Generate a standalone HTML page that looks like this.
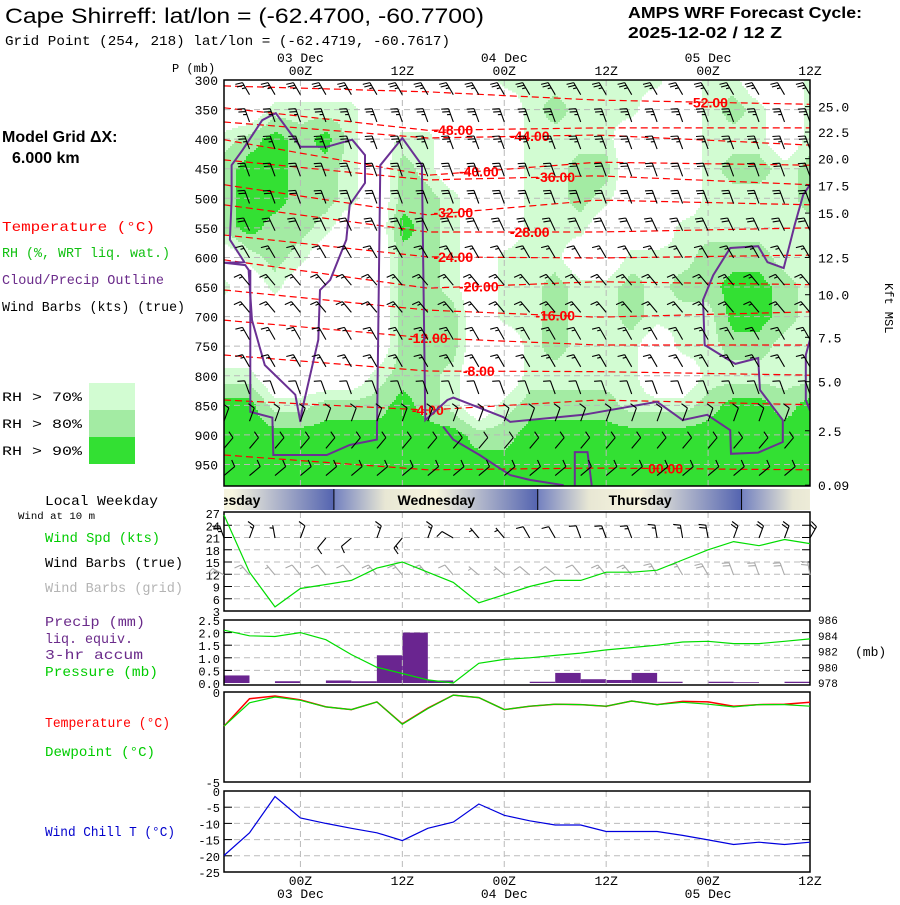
<!DOCTYPE html>
<html><head><meta charset="utf-8"><style>
body{margin:0;background:#fff;width:900px;height:900px;overflow:hidden}
svg text{font-family:"Liberation Mono",monospace}
.sans{font-family:"Liberation Sans",sans-serif}
</style></head><body>
<svg id="c" width="900" height="900" viewBox="0 0 900 900" xmlns="http://www.w3.org/2000/svg">
<defs>
<clipPath id="clipMain"><rect x="224" y="80" width="586" height="406"/></clipPath>
<clipPath id="clipDay"><rect x="224" y="489" width="586" height="21"/></clipPath>
<linearGradient id="dayGrad" x1="0" x2="1" y1="0" y2="0">
<stop offset="0" stop-color="#7482c0"/><stop offset="0.25" stop-color="#e8e7d4"/><stop offset="0.5" stop-color="#f7f5df"/><stop offset="1" stop-color="#5363b0"/>
</linearGradient>
</defs>
<text class="sans" x="5" y="23" font-size="21" textLength="479" lengthAdjust="spacingAndGlyphs">Cape Shirreff:  lat/lon = (-62.4700, -60.7700)</text>
<text x="5" y="45" font-size="14" textLength="445" lengthAdjust="spacingAndGlyphs">Grid Point (254, 218) lat/lon = (-62.4719, -60.7617)</text>
<text class="sans" x="628" y="18" font-size="16" font-weight="bold" textLength="234" lengthAdjust="spacingAndGlyphs">AMPS WRF Forecast Cycle:</text>
<text class="sans" x="628" y="38" font-size="16" font-weight="bold" textLength="154" lengthAdjust="spacingAndGlyphs">2025-12-02 / 12  Z</text>
<text x="172" y="72" font-size="12">P (mb)</text>
<text class="sans" x="2" y="142" font-size="16" font-weight="bold">Model Grid ΔX:</text>
<text class="sans" x="12" y="163" font-size="16" font-weight="bold">6.000 km</text>
<text x="2" y="231" font-size="14" fill="#ff0000" textLength="153" lengthAdjust="spacingAndGlyphs">Temperature (°C)</text>
<text x="2" y="257" font-size="14" fill="#10c010" textLength="168" lengthAdjust="spacingAndGlyphs">RH (%, WRT liq. wat.)</text>
<text x="2" y="284" font-size="14" fill="#6a2a8a" textLength="162" lengthAdjust="spacingAndGlyphs">Cloud/Precip Outline</text>
<text x="2" y="311" font-size="14" fill="#000" textLength="183" lengthAdjust="spacingAndGlyphs">Wind Barbs (kts) (true)</text>
<rect x="89" y="383" width="46" height="27" fill="#d2fcd2"/>
<rect x="89" y="410" width="46" height="27" fill="#a3eba3"/>
<rect x="89" y="437" width="46" height="27" fill="#33e033"/>
<text x="2" y="401" font-size="13" textLength="80" lengthAdjust="spacingAndGlyphs">RH &gt; 70%</text>
<text x="2" y="428" font-size="13" textLength="80" lengthAdjust="spacingAndGlyphs">RH &gt; 80%</text>
<text x="2" y="455" font-size="13" textLength="80" lengthAdjust="spacingAndGlyphs">RH &gt; 90%</text>
<text x="45" y="505" font-size="14" textLength="113" lengthAdjust="spacingAndGlyphs">Local Weekday</text>
<text x="18" y="519" font-size="10" textLength="77" lengthAdjust="spacingAndGlyphs">Wind at 10 m</text>
<text x="45" y="542" font-size="14" fill="#00cc00" textLength="115" lengthAdjust="spacingAndGlyphs">Wind Spd (kts)</text>
<text x="45" y="567" font-size="14" textLength="138" lengthAdjust="spacingAndGlyphs">Wind Barbs (true)</text>
<text x="45" y="592" font-size="14" fill="#b4b4b4" textLength="138" lengthAdjust="spacingAndGlyphs">Wind Barbs (grid)</text>
<text x="45" y="626" font-size="14" fill="#6a2a8a" textLength="100" lengthAdjust="spacingAndGlyphs">Precip (mm)</text>
<text x="45" y="643" font-size="14" fill="#6a2a8a" textLength="88" lengthAdjust="spacingAndGlyphs">liq. equiv.</text>
<text x="45" y="659" font-size="14" fill="#6a2a8a" textLength="98" lengthAdjust="spacingAndGlyphs">3-hr accum</text>
<text x="45" y="676" font-size="14" fill="#00cc00" textLength="113" lengthAdjust="spacingAndGlyphs">Pressure (mb)</text>
<text x="45" y="727" font-size="14" fill="#ff0000" textLength="125" lengthAdjust="spacingAndGlyphs">Temperature (°C)</text>
<text x="45" y="756" font-size="14" fill="#00cc00" textLength="110" lengthAdjust="spacingAndGlyphs">Dewpoint (°C)</text>
<text x="45" y="836" font-size="14" fill="#0000cc" textLength="130" lengthAdjust="spacingAndGlyphs">Wind Chill T (°C)</text>
<text x="855" y="656" font-size="13">(mb)</text>
<text x="885" y="283" font-size="12" transform="rotate(90 885 283)">Kft MSL</text>
<g id="layer"></g>
</svg>
<script>
// ---------- data ----------
const hours=[-9,-6,-3,0,3,6,9,12,15,18,21,24,27,30,33,36,39,42,45,48,51,54,57,60];
const rhLevels=[300,350,400,450,500,550,600,650,700,750,800,850,900,950,975];
const rhGrid=[
[55,55,55,55,55,55,55,55,55,55,55,75,75,75,75,75,75,75,55,75,75,55,55,75],
[55,55,75,75,75,75,55,55,55,55,55,55,75,85,75,75,75,55,55,75,85,75,55,75],
[75,85,95,85,95,75,55,75,75,55,55,55,75,75,75,75,55,55,55,75,75,75,55,75],
[85,95,95,85,85,75,55,85,75,55,55,55,75,75,85,85,55,55,55,75,85,85,75,85],
[85,95,95,85,85,75,55,85,85,75,55,55,75,75,85,75,55,55,55,75,75,75,75,85],
[85,95,85,85,75,55,55,95,85,75,55,55,75,75,75,55,55,55,75,75,75,75,75,75],
[55,75,85,75,55,55,55,85,85,75,55,75,75,75,55,55,75,75,75,85,85,85,75,75],
[75,55,75,55,55,55,55,85,85,75,55,75,75,85,75,75,85,75,85,85,95,95,85,75],
[55,55,55,55,55,55,55,85,85,85,55,75,75,85,75,75,85,75,75,75,95,95,85,75],
[55,55,55,55,55,55,55,85,85,85,55,55,75,85,75,75,75,55,75,75,85,85,75,75],
[75,75,55,55,55,55,75,85,85,75,55,55,75,75,75,75,75,55,55,75,75,75,75,75],
[95,95,75,75,85,85,85,95,85,75,55,75,85,85,85,85,75,75,75,85,95,95,85,95],
[95,95,95,95,95,95,95,95,95,95,85,85,95,95,95,95,95,95,95,95,95,95,95,95],
[95,95,95,95,95,95,95,95,95,95,95,95,95,95,95,95,95,95,95,95,95,95,95,95],
[95,95,95,95,95,95,95,95,95,95,95,95,95,95,95,95,95,95,95,95,95,95,95,95]];
const isoValues=[-52,-48,-44,-40,-36,-32,-28,-24,-20,-16,-12,-8,-4,0];
const isoHours=[-9,15,35,60];
const isoPress=[[310,320,334,341],[347,385,381,381],[371,398,393,410],[401,461,439,444],[435,469,462,477],[477,528,503,511],[511,557,557,550],[562,599,601,596],[604,652,641,646],[655,689,701,692],[706,736,748,748],[765,792,793,799],[841,858,841,849],[934,959,956,959]];
const isoLabelHours=[48,18,27,21,30,18,27,18,21,30,15,21,15,43];
const outlineMain=[[-9,609],[-6.6,608],[-8.3,570],[-8.1,503],[-8.1,444],[-6.8,418],[-4.5,368],[-2.9,356],[0,413],[3.1,413],[6.1,401],[7.6,427],[7.6,474],[5.8,511],[5.4,570],[3.5,638],[2.3,655],[2.1,739],[0.2,858],[0,878],[-0.6,832],[-4.2,782],[-5.7,706],[-6.1,621],[-6.5,613]];
const outlineLong=[[-5.9,621],[-5.9,861],[-3.3,871],[-3.2,934],[3.1,934],[5.8,917],[9,908],[9.4,444],[12,398],[14.3,444],[14.7,875],[17.3,841],[18,837],[23.9,870],[24.7,878],[33.3,866],[42,844],[45,875],[47.9,866],[50.6,892],[50.7,932],[53.9,930],[56.8,912],[56.8,875],[54.1,824],[53.9,770],[51.2,780],[47.6,748],[47.4,672],[48.6,630],[50.6,584],[53.9,581],[55,608],[56.9,618],[58.2,545],[59.2,494],[60,477]];
const outlineRight=[[60,859],[59.5,841],[59.5,765],[60,739]];
const outlineLow=[[16.8,886],[18,908],[21.1,934],[24.7,968],[27,976],[31,985]];
const outlineSmall=[[32.3,985],[32.3,929],[33.8,929],[34.3,985]];
const barbLevels=[313,359,405,451,497,543,589,635,681,727,773,819,865,911,957];
const barbDirs=[330,340,340,340,340,335,330,320,320,330,330,340,20,40,50];
const barbSpds=[25,25,25,20,20,20,15,15,15,15,15,10,10,10,10];
const windSpd=[26.5,12.5,4,8.5,9.5,10.5,13.5,15,12.5,10,5,7,9,10.5,10.5,12.5,12.5,13,15.5,18,20,19,20.5,19.5];
const sfcDir=[340,20,350,20,220,230,20,220,20,300,320,320,330,330,340,340,340,350,350,350,20,20,20,30];
const gridDir=[300,320,320,320,320,320,320,320,320,320,310,310,310,310,320,320,320,330,330,330,340,340,340,350];
const precip=[0.3,0,0.07,0,0.1,0.07,1.1,2.0,0.1,0,0,0,0.05,0.4,0.15,0.12,0.4,0.05,0,0.05,0.03,0,0.05];
const pressure=[984.7,984,983.9,984.4,983.5,981.6,980,979.2,978.4,978,980.5,981,981.2,981.5,981.8,982.2,982.5,982.8,983.2,983.3,983,983,983.3,983.6];
const temperature=[-1.9,-0.37,-0.22,-0.44,-0.83,-0.98,-0.55,-1.77,-0.9,-0.17,-0.31,-0.98,-0.79,-0.68,-0.7,-0.79,-0.5,-0.7,-0.52,-0.55,-0.79,-0.7,-0.68,-0.57];
const dewpoint=[-1.9,-0.6,-0.28,-0.46,-0.83,-0.98,-0.55,-1.79,-0.92,-0.17,-0.31,-0.98,-0.79,-0.68,-0.7,-0.79,-0.5,-0.7,-0.57,-0.68,-0.83,-0.7,-0.7,-0.79];
const windChill=[-19.9,-12.9,-1.7,-8.3,-10,-11.5,-12.9,-15.3,-11.5,-9.6,-4,-7.5,-9.2,-10.5,-10.5,-12.5,-12.5,-12.5,-13.7,-15.1,-16.5,-15.8,-16.5,-15.8];
const pressTicks=[300,350,400,450,500,550,600,650,700,750,800,850,900,950];
const heightLabels=['25.0','22.5','20.0','17.5','15.0','12.5','10.0','7.5','5.0','2.5','0.09'];
const heightPress=[345,388,433,478,525,600,663,735,810,893,985];
const spdTicks=[27,24,21,18,15,12,9,6,3];
const precipTicks=['2.5','2.0','1.5','1.0','0.5','0.0'];
const mbTicks=[986,984,982,980,978];
const chillTicks=[0,-5,-10,-15,-20,-25];
const timeTickHours=[0,12,24,36,48,60];
const timeTickLabels=['00Z','12Z','00Z','12Z','00Z','12Z'];
const dateLabels=['03 Dec','','04 Dec','','05 Dec',''];
const dayNames=['Tuesday','Wednesday','Thursday','Friday'];
const dayStartHours=[-20,4,28,52];

// ---------- scales ----------
const X0=224,X1=810;
function xH(h){return X0+(h+9)*(X1-X0)/69;}
function yP(p){return 80+(p-300)*0.5915;}
function ySpd(v){return 611-(v-3)*4.083;}
function yPc(v){return 683-v*25.2;}
function yMb(v){return 620+(986-v)*7.875;}
function yT(v){return 692-v*18;}
function yWC(v){return 791-v*3.24;}
const NS='http://www.w3.org/2000/svg';
const layer=document.getElementById('layer');
function mk(tag,attrs,parent){const e=document.createElementNS(NS,tag);for(const k in attrs)e.setAttribute(k,attrs[k]);(parent||layer).appendChild(e);return e;}
function txt(s,x,y,size,anchor,fill,parent){const t=mk('text',{x:x,y:y,'font-size':size,'text-anchor':anchor||'start',fill:fill||'#000'},parent);t.textContent=s;return t;}

// ---------- main panel ----------
const main=mk('g',{'clip-path':'url(#clipMain)'});


function rhAt(h,p){
  let cf=(h+9)/3; cf=Math.max(0,Math.min(hours.length-1.0001,cf));
  const ci=Math.floor(cf), ct=cf-ci;
  let ri=0; if(p<=rhLevels[0]){ri=0;} else {while(ri<rhLevels.length-2&&p>rhLevels[ri+1])ri++;}
  let rt=(p-rhLevels[ri])/(rhLevels[ri+1]-rhLevels[ri]); rt=Math.max(0,Math.min(1,rt));
  const a=rhGrid[ri][ci],b=rhGrid[ri][Math.min(ci+1,hours.length-1)],c=rhGrid[ri+1][ci],d=rhGrid[ri+1][Math.min(ci+1,hours.length-1)];
  return (a*(1-ct)+b*ct)*(1-rt)+(c*(1-ct)+d*ct)*rt;
}
function rhColor(v){return v>=90?'#33e033':v>=80?'#a3eba3':v>=70?'#d2fcd2':null;}
const step=2;
for(let y=80;y<486;y+=step){
  const p=300+(y+step/2-80)/0.5915;
  let runStart=X0,runCol=null;
  for(let x=X0;x<=X1;x+=step){
    const h=(x+step/2-X0)*69/(X1-X0)-9;
    const col=x<X1?rhColor(rhAt(h,p)):'END';
    if(col!==runCol){
      if(runCol&&runCol!=='END'){const r=mk('rect',{x:runStart,y:y,width:x-runStart,height:step+0.5,fill:runCol},main);
        
        }
      runStart=x;runCol=col;
    }
  }
}
pressTicks.forEach(p=>{const l=mk('line',{x1:X0,x2:X1,y1:yP(p),y2:yP(p),stroke:'#b8b8b8','stroke-dasharray':'6,4'},main);
  
  });
timeTickHours.slice(0,5).forEach(h=>{const l=mk('line',{x1:xH(h),x2:xH(h),y1:80,y2:486,stroke:'#b8b8b8','stroke-dasharray':'6,4'},main);
  
  });
function isoP(i,h){const hs=isoHours,ps=isoPress[i];let k=0;while(k<hs.length-2&&h>hs[k+1])k++;const t=(h-hs[k])/(hs[k+1]-hs[k]);return ps[k]+(ps[k+1]-ps[k])*t;}
isoValues.forEach((v,i)=>{
  let d='';for(let h=-9;h<=60;h+=1.5){d+=(d?'L':'M')+xH(h).toFixed(1)+' '+yP(isoP(i,h)).toFixed(1);}
  const pth=mk('path',{d:d,fill:'none',stroke:'#ff0000','stroke-width':1.2,'stroke-dasharray':'7,4'},main);
  
  
  const lh=isoLabelHours[i];
  const t=txt((v===0?'00':v)+'.00',xH(lh),yP(isoP(i,lh))+5,14,'middle','#ff0000',main);
  t.setAttribute('class','sans');t.setAttribute('font-weight','bold');
  
  
});
[outlineMain,outlineLong,outlineRight,outlineLow,outlineSmall].forEach((pts,i)=>{
  const d=pts.map((q,k)=>(k?'L':'M')+xH(q[0]).toFixed(1)+' '+yP(q[1]).toFixed(1)).join('')+(i===0?'Z':'');
  const pth=mk('path',{d:d,fill:'none',stroke:'#6a3093','stroke-width':2},main);
  
  
});
function barb(x,y,dir,spd,len,color,parent){
  const r=dir*Math.PI/180,ux=Math.sin(r),uy=-Math.cos(r);
  const tx=x+ux*len,ty=y+uy*len,nx=uy,ny=-ux;
  let d='M'+x.toFixed(1)+' '+y.toFixed(1)+'L'+tx.toFixed(1)+' '+ty.toFixed(1);
  let s=Math.round(spd/5)*5,pos=0;
  while(s>=10){const px=tx-ux*pos,py=ty-uy*pos;d+='M'+px.toFixed(1)+' '+py.toFixed(1)+'l'+(nx*7+ux*2).toFixed(1)+' '+(ny*7+uy*2).toFixed(1);s-=10;pos+=3;}
  if(s>=5){if(pos===0)pos=3;const px=tx-ux*pos,py=ty-uy*pos;d+='M'+px.toFixed(1)+' '+py.toFixed(1)+'l'+(nx*3.5+ux).toFixed(1)+' '+(ny*3.5+uy).toFixed(1);}
  const b=mk('path',{d:d,fill:'none',stroke:color,'stroke-width':1.1},parent);
  
  
}
barbLevels.forEach((p,ri)=>{hours.forEach(h=>{barb(xH(h),yP(p)+7,barbDirs[ri],barbSpds[ri],14,'#000',main);});});
const frame=mk('rect',{x:X0,y:80,width:X1-X0,height:406,fill:'none',stroke:'#000','stroke-width':1.5});


pressTicks.forEach(p=>{const t=txt(String(p),218,yP(p)+5,13,'end');
  
  });
heightLabels.forEach((s,i)=>{const t=txt(s,818,yP(heightPress[i])+5,13,'start');
  
  
  const tk=mk('line',{x1:X1-5,x2:X1,y1:yP(heightPress[i]),y2:yP(heightPress[i]),stroke:'#000'});
  
  });
timeTickHours.forEach((h,i)=>{
  const t=txt(timeTickLabels[i],xH(h),75,13,'middle');
  
  
  if(dateLabels[i]){const d=txt(dateLabels[i],xH(h),62,13,'middle');
    
    }
  const b=txt(timeTickLabels[i],xH(h),885,13,'middle');
  
  
  if(dateLabels[i]){const d=txt(dateLabels[i],xH(h),898,13,'middle');
    
    }
});

// ---------- weekday bar ----------
const dayG=mk('g',{'clip-path':'url(#clipDay)'});


dayStartHours.forEach((h,i)=>{
  const x0=xH(h),x1=xH(h+24);
  const r=mk('rect',{x:x0,y:489,width:x1-x0,height:21,fill:'url(#dayGrad)'},dayG);
  
  
  const ln=mk('line',{x1:x1,x2:x1,y1:489,y2:510,stroke:'#000','stroke-width':2},dayG);
  
  
  const t=txt(dayNames[i],(x0+x1)/2,505,14,'middle','#000',dayG);
  t.setAttribute('class','sans');t.setAttribute('font-weight','bold');
  
  
});

// ---------- helper panels ----------
function panel(name,y0,y1){
  timeTickHours.slice(0,5).forEach(h=>{const l=mk('line',{x1:xH(h),x2:xH(h),y1:y0,y2:y1,stroke:'#bbb','stroke-dasharray':'6,4'});
    
    });
  const r=mk('rect',{x:X0,y:y0,width:X1-X0,height:y1-y0,fill:'none',stroke:'#000','stroke-width':1.5});
  
  
}
function hgrid(name,y){
  const l=mk('line',{x1:X0,x2:X1,y1:y,y2:y,stroke:'#bbb','stroke-dasharray':'6,4'});
  
  
  const a=mk('line',{x1:X0,x2:X0+8,y1:y,y2:y,stroke:'#000'});
  
  
  const b=mk('line',{x1:X1-8,x2:X1,y1:y,y2:y,stroke:'#000'});
  
  
}
function line(vals,xs,fy,color,name,w){
  const d=vals.map((v,i)=>(i?'L':'M')+xs[i].toFixed(1)+' '+fy(v).toFixed(1)).join('');
  const p=mk('path',{d:d,fill:'none',stroke:color,'stroke-width':w||1.2});
  
  
}
const xs=hours.map(xH);

spdTicks.forEach(v=>{if(v!==27&&v!==3)hgrid('wind-speed',ySpd(v));
  const t=txt(String(v),220,ySpd(v)+5,12,'end');
  
  });
panel('wind-panel',512,611);
hours.forEach((h,i)=>{barb(xH(h),575,gridDir[i],windSpd[i],13,'#aaa',layer);});
hours.forEach((h,i)=>{barb(xH(h),538,sfcDir[i],windSpd[i],13,'#000',layer);});
line(windSpd,xs,ySpd,'#00dd00','wind-speed-line');

precipTicks.forEach(s=>{const v=parseFloat(s);if(v>0&&v<2.5)hgrid('precip',yPc(v));
  const t=txt(s,220,yPc(v)+5,12,'end');
  
  });
mbTicks.forEach(v=>{const t=txt(String(v),818,yMb(v)+4,11,'start');
  
  });
precip.forEach((v,i)=>{if(v<=0)return;
  const r=mk('rect',{x:xs[i],y:yPc(v),width:xs[i+1]-xs[i],height:yPc(0)-yPc(v),fill:'#6a2590'});
  
  });
panel('precip-panel',620,685);
line(pressure,xs,yMb,'#00dd00','pressure-line');

[['0',0],['-5',-5]].forEach(a=>{const t=txt(a[0],220,yT(a[1])+5,12,'end');
  
  });
panel('temperature-panel',692,782);
line(temperature,xs,yT,'#ff0000','temperature-line',1.5);
line(dewpoint,xs,yT,'#00dd00','dewpoint-line',1.2);

chillTicks.forEach(v=>{if(v!==0&&v!==-25)hgrid('wind-chill',yWC(v));
  const t=txt(String(v),220,yWC(v)+5,12,'end');
  
  });
panel('wind-chill-panel',791,872);
line(windChill,xs,yWC,'#0000dd','wind-chill-line',1.2);
</script>
</body></html>
